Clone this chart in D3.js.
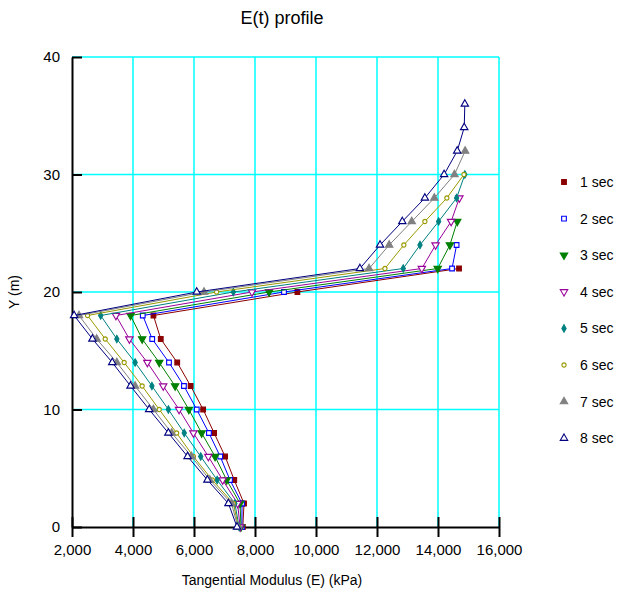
<!DOCTYPE html>
<html>
<head>
<meta charset="utf-8">
<script src="https://cdn.jsdelivr.net/npm/d3@7"></script>
<style>
  body { margin: 0; background: #fff; }
  text { font-family: "Liberation Sans", Arial, sans-serif; fill: #000; }
</style>
</head>
<body>
<svg width="621" height="595"></svg>
<script>
// E(t) profile - tangential modulus vs depth

var depths = [0, 2, 4, 6, 8, 10, 12, 14, 16, 18, 20, 22, 24, 26, 28, 30, 32, 34, 36];
var seriesNames = ["1 sec", "2 sec", "3 sec", "4 sec", "5 sec", "6 sec", "7 sec", "8 sec"];

// modulus (kPa) at each depth, one list per time step
var sec1 = [7600, 7640, 7320, 7020, 6660, 6300, 5890, 5450, 4910, 4670, 9390, 14690];
var sec2 = [7570, 7575, 7180, 6860, 6490, 6090, 5670, 5180, 4630, 4320, 8950, 14460, 14610];
var sec3 = [7540, 7510, 7070, 6690, 6250, 5830, 5380, 4860, 4300, 3920, 8460, 13990, 14390, 14630];
var sec4 = [7510, 7430, 6940, 6470, 5980, 5510, 4990, 4470, 3880, 3440, 7900, 13470, 13920, 14430, 14700];
var sec5 = [7480, 7340, 6760, 6220, 5680, 5160, 4620, 4070, 3470, 2940, 7290, 12860, 13410, 14020, 14610, 14880];
var sec6 = [7460, 7290, 6600, 5980, 5430, 4860, 4300, 3710, 3090, 2510, 6740, 12260, 12880, 13570, 14290, 14850];
var sec7 = [7440, 7230, 6520, 5920, 5270, 4670, 4070, 3470, 2810, 2230, 6330, 11740, 12400, 13140, 13880, 14540, 14890];
var sec8 = [7410, 7130, 6440, 5790, 5160, 4530, 3920, 3320, 2670, 2070, 6090, 11440, 12100, 12830, 13570, 14200, 14630, 14860, 14880];

var xTicks = [2000, 4000, 6000, 8000, 10000, 12000, 14000, 16000];
var yTicks = [0, 10, 20, 30, 40];

var colors = ["#8b0000", "#0000ff", "#008000", "#990099", "#008080", "#999900", "#808080", "#000080"];
// marker: shape, filled or not, pointing down or not, size
var markers = [
  {type: d3.symbolSquare, fill: true, size: 22},
  {type: d3.symbolSquare, fill: false, size: 22},
  {type: d3.symbolTriangle, fill: true, flip: true, size: 24},
  {type: d3.symbolTriangle, fill: false, flip: true, size: 24},
  {type: d3.symbolDiamond, fill: true, size: 16},
  {type: d3.symbolCircle, fill: false, size: 14},
  {type: d3.symbolTriangle, fill: true, size: 24},
  {type: d3.symbolTriangle, fill: false, size: 24}
];

var allValues = [sec1, sec2, sec3, sec4, sec5, sec6, sec7, sec8];
var series = allValues.map(function(vals, i) {
  return {
    name: seriesNames[i],
    points: vals.map(function(v, j) { return {e: v, y: depths[j]}; })
  };
});

var svg = d3.select("svg"),
    margin = {top: 57, right: 122, bottom: 68, left: 72},
    width = +svg.attr("width") - margin.left - margin.right,
    height = +svg.attr("height") - margin.top - margin.bottom;

var x = d3.scaleLinear().domain([2000, 16000]).range([0, width]),
    y = d3.scaleLinear().domain([0, 40]).range([height, 0]);

var g = svg.append("g")
    .attr("transform", "translate(" + margin.left + "," + margin.top + ")");

// grid
g.selectAll(".vgrid")
  .data(xTicks.slice(1))
  .enter().append("line")
    .attr("x1", function(d) { return x(d); })
    .attr("x2", function(d) { return x(d); })
    .attr("y1", 0).attr("y2", height)
    .attr("stroke", "#00ffff").attr("stroke-width", 1.5);

g.selectAll(".hgrid")
  .data(yTicks.slice(1))
  .enter().append("line")
    .attr("x1", 0).attr("x2", width)
    .attr("y1", function(d) { return y(d); })
    .attr("y2", function(d) { return y(d); })
    .attr("stroke", "#00ffff").attr("stroke-width", 1.5);

// axes
var xAxis = g.append("g")
    .attr("transform", "translate(0," + height + ")")
    .call(d3.axisBottom(x).tickValues(xTicks).tickFormat(d3.format(",")).tickSizeInner(10).tickSizeOuter(0));
xAxis.selectAll(".tick line").attr("y1", -10);
xAxis.selectAll(".tick text").attr("dy", "0").attr("y", 28);

var yAxis = g.append("g")
    .call(d3.axisLeft(y).tickValues(yTicks).tickSizeInner(10).tickSizeOuter(0));
yAxis.selectAll(".tick line").attr("x2", 10);
yAxis.selectAll(".tick text").attr("x", -12);

g.selectAll(".domain").attr("stroke", "#000").attr("stroke-width", 2);
g.selectAll(".tick line").attr("stroke", "#000").attr("stroke-width", 2);
g.selectAll(".tick text").style("font-size", "15px").style("font-family", "Liberation Sans, Arial, sans-serif");

// lines
var line = d3.line()
    .x(function(d) { return x(d.e); })
    .y(function(d) { return y(d.y); });

function symbolPath(m) {
  return d3.symbol().type(m.type).size(m.size)();
}

series.forEach(function(s, i) {
  var m = markers[i];
  var sg = g.append("g");
  sg.append("path")
    .datum(s.points)
    .attr("fill", "none")
    .attr("stroke", colors[i])
    .attr("stroke-width", 1)
    .attr("d", line);
  sg.selectAll(".pt")
    .data(s.points)
    .enter().append("path")
      .attr("transform", function(d) {
        return "translate(" + x(d.e) + "," + y(d.y) + ")" + (m.flip ? " rotate(180)" : "");
      })
      .attr("d", symbolPath(m))
      .attr("fill", m.fill ? colors[i] : "#fff")
      .attr("stroke", colors[i])
      .attr("stroke-width", 1.1);
});

// title and axis labels
svg.append("text")
    .attr("x", 282).attr("y", 24)
    .attr("text-anchor", "middle")
    .style("font-size", "18px")
    .text("E(t) profile");

svg.append("text")
    .attr("x", 272).attr("y", 585)
    .attr("text-anchor", "middle")
    .style("font-size", "14px")
    .text("Tangential Modulus (E) (kPa)");

svg.append("text")
    .attr("transform", "translate(19,292) rotate(-90)")
    .attr("text-anchor", "middle")
    .style("font-size", "14px")
    .text("Y (m)");

// legend
var legend = svg.append("g").attr("transform", "translate(564,182)");
seriesNames.forEach(function(name, i) {
  var m = markers[i];
  var row = legend.append("g").attr("transform", "translate(0," + (i * 36.6) + ")");
  row.append("path")
    .attr("transform", m.flip ? "rotate(180)" : null)
    .attr("d", symbolPath(m))
    .attr("fill", m.fill ? colors[i] : "#fff")
    .attr("stroke", colors[i])
    .attr("stroke-width", 1.1);
  row.append("text")
    .attr("x", 16).attr("y", 5)
    .style("font-size", "14px")
    .text(name);
});
</script>
</body>
</html>
